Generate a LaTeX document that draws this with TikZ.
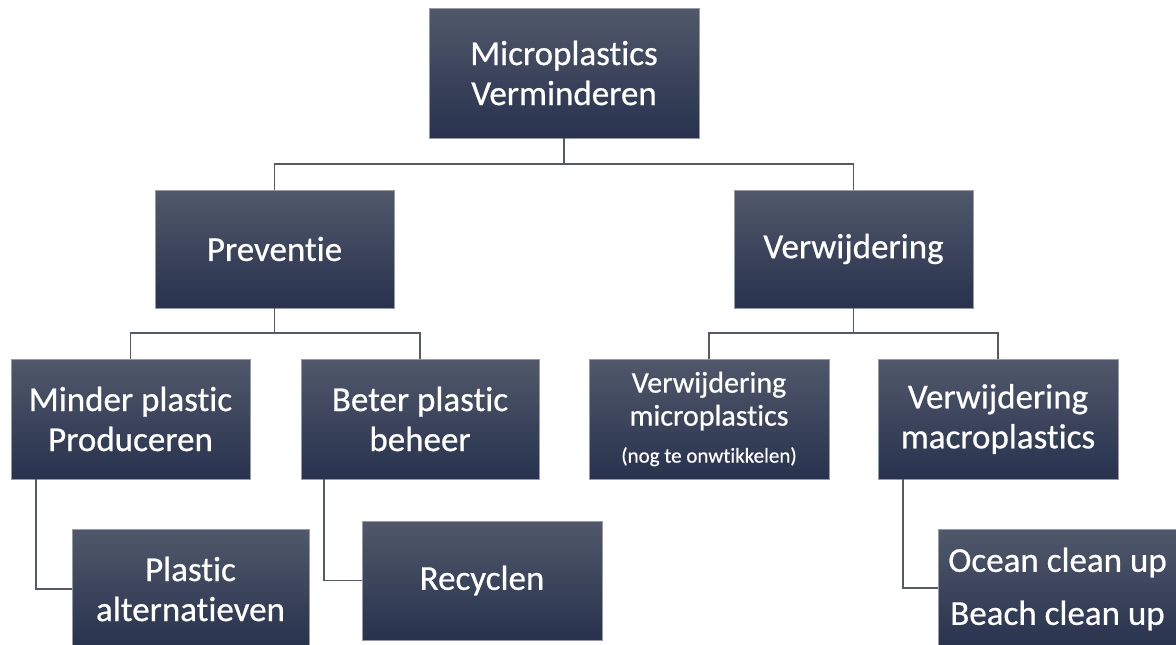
\documentclass[tikz,border=0pt]{standalone}
\usepackage{fontspec}
\setmainfont{Carlito}[Ligatures=NoCommon, FakeBold=0.6]
\usetikzlibrary{calc}
\definecolor{boxtop}{RGB}{80,88,106}
\definecolor{boxbot}{RGB}{40,50,78}
\definecolor{boxedge}{RGB}{150,155,165}
\definecolor{connc}{RGB}{85,90,100}
\tikzset{
  box/.style={rectangle, draw=boxedge, line width=0.6pt, top color=boxtop, bottom color=boxbot,
    text=white, align=center, inner sep=0pt, outer sep=0pt,
    font=\fontsize{35}{40}\selectfont},
  conn/.style={draw=connc, line width=1.3pt}
}
\begin{document}
\begin{tikzpicture}[x=1pt,y=1pt]
\useasboundingbox (0,0) rectangle (1176,-645);
\fill[white] (0,0) rectangle (1176,-645);
% nodes
\node[box, minimum width=270pt, minimum height=130pt] (top) at (564,-73) {Microplastics\\Verminderen};
\node[box, minimum width=239pt, minimum height=118pt] (prev) at (274.5,-249) {Preventie};
\node[box, minimum width=239pt, minimum height=118pt] (verw) at (853.5,-249) {Verwijdering};
\node[box, minimum width=239pt, minimum height=120pt] (minder) at (130.5,-419) {Minder plastic\\Produceren};
\node[box, minimum width=238pt, minimum height=120pt] (beter) at (420,-419) {Beter plastic\\beheer};
\node[box, minimum width=240pt, minimum height=120pt, font=\fontsize{30}{33}\selectfont] (micro) at (709,-419)
  {Verwijdering\\microplastics\\[4pt]{\fontsize{21}{24}\selectfont (nog te onwtikkelen)}};
\node[box, minimum width=240pt, minimum height=120pt] (macro) at (998,-419) {Verwijdering\\macroplastics};
\node[box, minimum width=237pt, minimum height=120pt] (alt) at (190.5,-589) {Plastic\\alternatieven};
\node[box, minimum width=240pt, minimum height=119pt] (recy) at (482,-580.5) {Recyclen};
\node[box, minimum width=239pt, minimum height=120pt, font=\fontsize{35}{53}\selectfont] (ocean) at (1057.5,-589) {Ocean clean up\\Beach clean up};
% connectors
\draw[conn] (top.south) -- ++(0,-26) -| (prev.north);
\draw[conn] (top.south) -- ++(0,-26) -| (verw.north);
\draw[conn] (prev.south) -- ++(0,-25) -| (minder.north);
\draw[conn] (prev.south) -- ++(0,-25) -| (beter.north);
\draw[conn] (verw.south) -- ++(0,-25) -| (micro.north);
\draw[conn] (verw.south) -- ++(0,-25) -| (macro.north);
\draw[conn] ([xshift=-94.5pt]minder.south) |- (alt.west);
\draw[conn] ([xshift=-96pt]beter.south) |- (recy.west);
\draw[conn] ([xshift=-95pt]macro.south) |- ([yshift=1pt]ocean.west);
\end{tikzpicture}
\end{document}
